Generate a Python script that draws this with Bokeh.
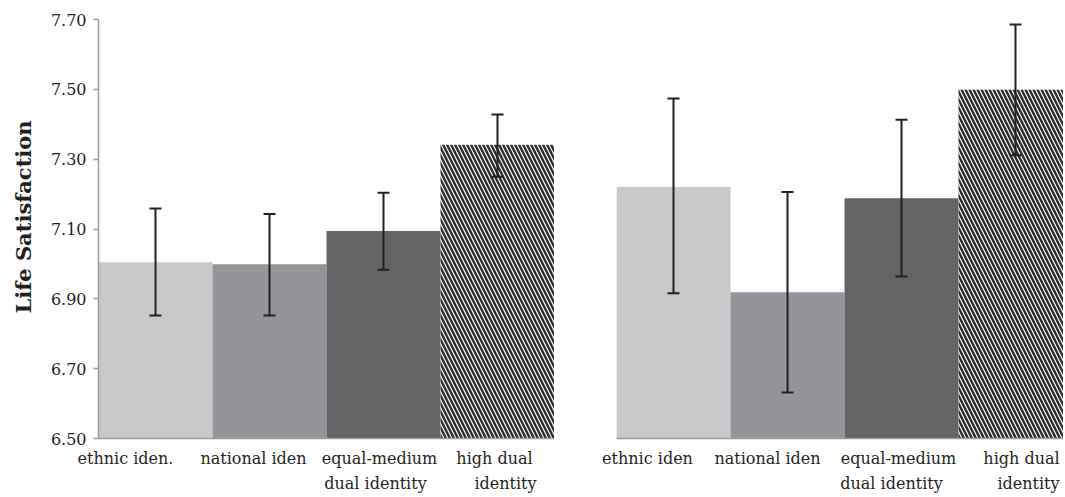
from bokeh.plotting import figure
from bokeh.models import (ColumnDataSource, Range1d, FixedTicker, NumeralTickFormatter,
                          Whisker, TeeHead, LinearAxis, Title)
from bokeh.layouts import row
from bokeh.embed import file_html
from bokeh.resources import INLINE

# ---------------- data ----------------
left_categories = ["ethnic iden.", "national iden", "equal-medium\ndual identity", "high dual\nidentity"]
right_categories = ["ethnic iden", "national iden", "equal-medium\ndual identity", "high dual\nidentity"]

left_means = [7.005, 6.999, 7.094, 7.341]
left_lower = [6.852, 6.852, 6.983, 7.250]
left_upper = [7.159, 7.143, 7.204, 7.428]

right_means = [7.220, 6.919, 7.188, 7.499]
right_lower = [6.916, 6.632, 6.964, 7.311]
right_upper = [7.474, 7.206, 7.413, 7.686]

y_ticks = [6.50, 6.70, 6.90, 7.10, 7.30, 7.50, 7.70]
y_title = "Life Satisfaction"

# ---------------- style ----------------
FILLS = ["#c7c8ca", "#939598", "#636466", "#ffffff"]
HATCHES = [" ", " ", " ", "\\"]
TEXT = "#231f20"
AXIS = "#9a9a9a"
FONT = "DejaVu Serif"
PX_PER_UNIT = 114.0

# horizontal pixel offsets of the category label lines (line 1, line 2)
LEFT_OFFS = [[-30, -16, -4, -3], [0, 0, -8, 8]]
RIGHT_OFFS = [[-26, -20, -3, 6], [0, 0, -10, 13]]


def style_label_axis(ax, standoff):
    ax.major_tick_line_color = None
    ax.minor_tick_line_color = None
    ax.major_tick_in = 0
    ax.major_tick_out = 0
    ax.minor_tick_in = 0
    ax.minor_tick_out = 0
    ax.major_label_standoff = standoff
    ax.major_label_text_font = FONT
    ax.major_label_text_font_size = "16px"
    ax.major_label_text_color = TEXT


def panel(categories, means, lower, upper, frame_w, border_left, show_y, offs):
    p = figure(frame_width=frame_w, frame_height=419,
               x_range=Range1d(0, frame_w / PX_PER_UNIT), y_range=Range1d(y_ticks[0], y_ticks[-1]),
               min_border_left=border_left, min_border_right=0,
               min_border_top=19, min_border_bottom=20,
               output_backend="svg", toolbar_location=None,
               background_fill_color="white", border_fill_color="white")
    p.outline_line_color = None
    p.xgrid.visible = False
    p.ygrid.visible = False

    xs = [i + 0.5 for i in range(len(means))]
    src = ColumnDataSource(dict(x=xs, top=means, lower=lower, upper=upper,
                                fill=FILLS, hatch=HATCHES))
    p.vbar(x="x", top="top", bottom=y_ticks[0], width=1.0, source=src,
           fill_color="fill", line_color=None,
           hatch_pattern="hatch", hatch_color="#2b2b2b", hatch_scale=8, hatch_weight=2.4)

    w = Whisker(base="x", lower="lower", upper="upper", source=src, level="overlay",
                line_color=TEXT, line_width=2,
                upper_head=TeeHead(size=12, line_color=TEXT, line_width=2),
                lower_head=TeeHead(size=12, line_color=TEXT, line_width=2))
    p.add_layout(w)

    # category labels, one axis per text line
    lines = [c.split("\n") for c in categories]
    ticks1, over1, ticks2, over2 = [], {}, [], {}
    for i, ls in enumerate(lines):
        t = round(xs[i] + offs[0][i] / PX_PER_UNIT, 4)
        ticks1.append(t)
        over1[t] = ls[0]
        if len(ls) > 1:
            t2 = round(xs[i] + offs[1][i] / PX_PER_UNIT, 4)
            ticks2.append(t2)
            over2[t2] = ls[1]

    ax1 = p.xaxis[0]
    ax1.ticker = FixedTicker(ticks=ticks1)
    ax1.major_label_overrides = over1
    ax1.axis_line_color = AXIS
    ax1.axis_line_width = 1.5
    style_label_axis(ax1, 10)

    ax2 = LinearAxis(ticker=FixedTicker(ticks=ticks2), major_label_overrides=over2,
                     axis_line_color=None)
    style_label_axis(ax2, 3)
    p.add_layout(ax2, "below")

    if show_y:
        ax = p.yaxis[0]
        ax.ticker = FixedTicker(ticks=y_ticks)
        ax.formatter = NumeralTickFormatter(format="0.00")
        ax.axis_line_color = AXIS
        ax.axis_line_width = 1.5
        ax.major_tick_line_color = AXIS
        ax.major_tick_line_width = 1.5
        ax.major_tick_in = 0
        ax.major_tick_out = 5
        ax.minor_tick_line_color = None
        ax.major_label_standoff = 7
        ax.major_label_text_font = FONT
        ax.major_label_text_font_size = "16px"
        ax.major_label_text_color = TEXT
        t = Title(text=y_title, align="left", vertical_align="top", offset=125, standoff=20,
                  text_font=FONT, text_font_style="bold", text_font_size="21px",
                  text_color=TEXT)
        p.add_layout(t, "left")
    else:
        p.yaxis.visible = False
    return p


p1 = panel(left_categories, left_means, left_lower, left_upper, 456, 97, True, LEFT_OFFS)
p2 = panel(right_categories, right_means, right_lower, right_upper, 447, 62, False, RIGHT_OFFS)

layout = row(p1, p2, spacing=0)
open("out.html", "w").write(file_html(layout, INLINE))
